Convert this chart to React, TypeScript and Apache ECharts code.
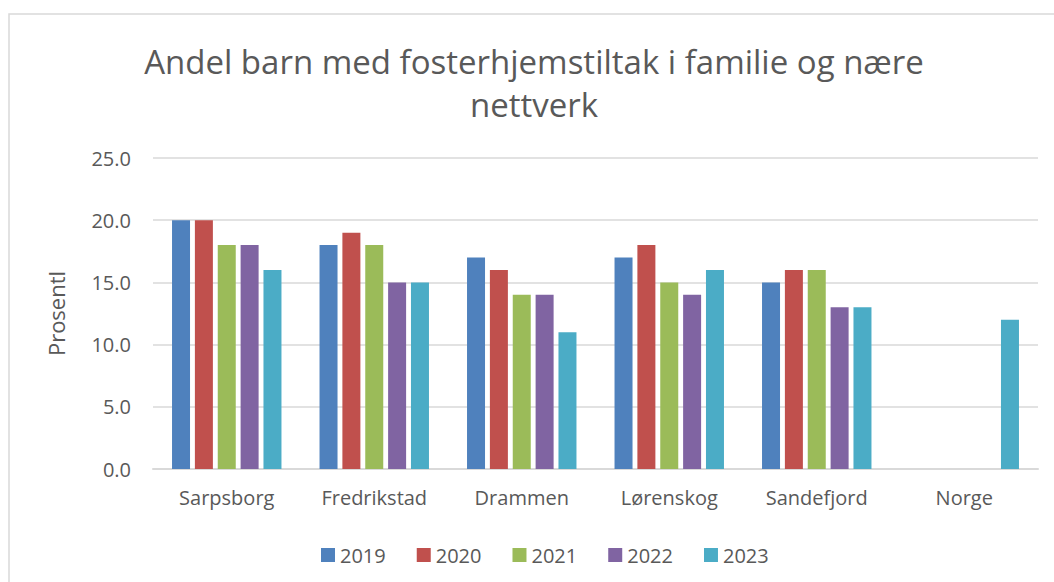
import React, { useEffect, useRef } from "react";
import * as echarts from "echarts";

const categories = ["Sarpsborg", "Fredrikstad", "Drammen", "Lørenskog", "Sandefjord", "Norge"];
const years = ["2019", "2020", "2021", "2022", "2023"];
const values2019 = [20, 18, 17, 17, 15, null];
const values2020 = [20, 19, 16, 18, 16, null];
const values2021 = [18, 18, 14, 15, 16, null];
const values2022 = [18, 15, 14, 14, 13, null];
const values2023 = [16, 15, 11, 16, 13, 12];
const seriesValues = [values2019, values2020, values2021, values2022, values2023];
const colors = ["#4F81BD", "#C0504D", "#9BBB59", "#8064A2", "#4BACC6"];
const titleLines = ["Andel barn med fosterhjemstiltak i familie og nære", "nettverk"];
const yAxisName = "Prosentl";

const FONT = "'Open Sans', sans-serif";
const TEXT = "#595959";

export default function App() {
  const ref = useRef<HTMLDivElement>(null);
  useEffect(() => {
    if (!ref.current) return;
    const chart = echarts.init(ref.current, undefined, { renderer: "svg" });
    chart.setOption({
      animation: false,
      backgroundColor: "#ffffff",
      textStyle: { fontFamily: FONT },
      graphic: [
        {
          type: "rect",
          shape: { x: 9, y: 14, width: 1070, height: 600 },
          style: { fill: "none", stroke: "#d9d9d9", lineWidth: 1.5 },
          silent: true,
        },
        {
          type: "text",
          x: 534,
          y: 61,
          style: {
            text: titleLines[0],
            fill: TEXT,
            font: `33px ${FONT}`,
            align: "center",
            verticalAlign: "middle",
          },
        },
        {
          type: "text",
          x: 534,
          y: 104,
          style: {
            text: titleLines[1],
            fill: TEXT,
            font: `33px ${FONT}`,
            align: "center",
            verticalAlign: "middle",
          },
        },
      ],
      legend: {
        data: years,
        left: 316,
        top: 540,
        itemWidth: 14,
        itemHeight: 14,
        itemGap: 31,
        icon: "rect",
        textStyle: { color: TEXT, fontSize: 20, fontFamily: FONT },
      },
      grid: { left: 153, right: 16, top: 158, bottom: 113 },
      xAxis: {
        type: "category",
        data: categories,
        axisLine: { lineStyle: { color: "#d9d9d9", width: 2 } },
        axisTick: { show: false },
        axisLabel: { color: TEXT, fontSize: 20, fontFamily: FONT, margin: 18 },
      },
      yAxis: {
        type: "value",
        min: 0,
        max: 25,
        interval: 5,
        name: yAxisName,
        nameLocation: "middle",
        nameRotate: 90,
        nameGap: 86,
        nameTextStyle: { color: TEXT, fontSize: 22, fontFamily: FONT },
        axisLine: { show: false },
        axisTick: { show: false },
        axisLabel: {
          color: TEXT,
          fontSize: 20,
          fontFamily: FONT,
          margin: 22,
          formatter: (v: number) => v.toFixed(1),
        },
        splitLine: { lineStyle: { color: "#d9d9d9", width: 1.5 } },
      },
      series: years.map((y, i) => ({
        name: y,
        type: "bar",
        data: seriesValues[i],
        barWidth: 18,
        barGap: "27%",
        itemStyle: { color: colors[i] },
      })),
    });
    return () => chart.dispose();
  }, []);
  return (
    <div
      ref={ref}
      style={{ position: "fixed", left: 0, top: 0, width: 1054, height: 582 }}
    />
  );
}
